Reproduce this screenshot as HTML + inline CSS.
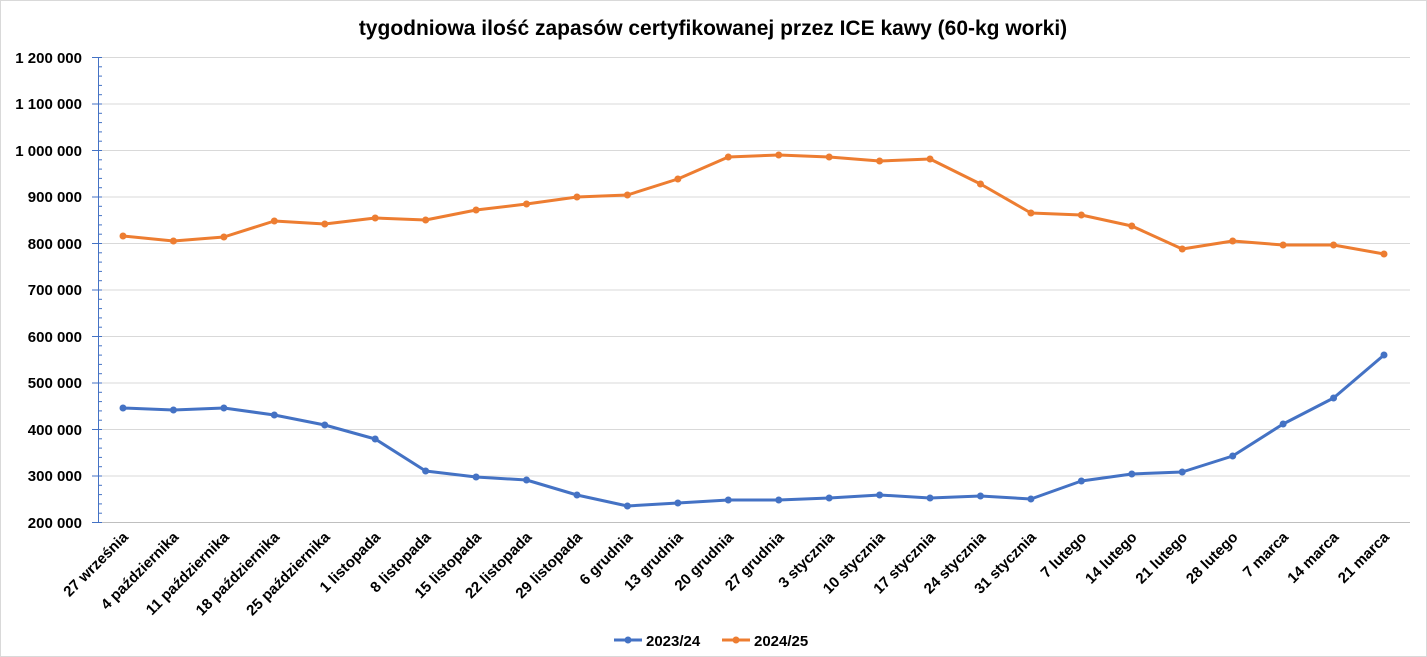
<!DOCTYPE html>
<html><head><meta charset="utf-8"><style>
html,body{margin:0;padding:0;background:#fff}
svg{display:block;font-family:"Liberation Sans",sans-serif}
</style></head><body>
<svg width="1427" height="657" viewBox="0 0 1427 657" xmlns="http://www.w3.org/2000/svg">
<rect x="0.5" y="0.5" width="1426" height="656" fill="#fff" stroke="#d9d9d9"/>
<text x="713" y="35" text-anchor="middle" font-size="21" font-weight="bold" fill="#000">tygodniowa ilość zapasów certyfikowanej przez ICE kawy (60-kg worki)</text>
<g stroke="#d9d9d9" stroke-width="1">
<line x1="98" x2="1410" y1="57.5" y2="57.5"/><line x1="98" x2="1410" y1="104" y2="104"/><line x1="98" x2="1410" y1="150.5" y2="150.5"/><line x1="98" x2="1410" y1="197" y2="197"/><line x1="98" x2="1410" y1="243.5" y2="243.5"/><line x1="98" x2="1410" y1="290" y2="290"/><line x1="98" x2="1410" y1="336.5" y2="336.5"/><line x1="98" x2="1410" y1="383" y2="383"/><line x1="98" x2="1410" y1="429.5" y2="429.5"/><line x1="98" x2="1410" y1="476" y2="476"/>
</g>
<line x1="98" x2="1410" y1="522.5" y2="522.5" stroke="#bfbfbf"/>
<line x1="98.5" x2="98.5" y1="57" y2="522" stroke="#4472c4"/>
<g id="ticks" stroke="#4472c4" stroke-width="1"></g>
<g font-size="15" font-weight="bold" text-anchor="end" fill="#000">
<text x="82" y="63">1 200 000</text><text x="82" y="109">1 100 000</text><text x="82" y="156">1 000 000</text><text x="82" y="202">900 000</text><text x="82" y="249">800 000</text><text x="82" y="295">700 000</text><text x="82" y="342">600 000</text><text x="82" y="388">500 000</text><text x="82" y="435">400 000</text><text x="82" y="481">300 000</text><text x="82" y="528">200 000</text>
</g>
<g id="lbl" font-size="15" font-weight="bold" text-anchor="end" fill="#000"></g>
<polyline id="o" fill="none" stroke="#ed7d31" stroke-width="3" stroke-linejoin="round"/>
<polyline id="b" fill="none" stroke="#4472c4" stroke-width="3" stroke-linejoin="round"/>
<g id="dots"></g>
<line x1="614" x2="642" y1="640" y2="640" stroke="#4472c4" stroke-width="3"/><circle cx="628" cy="640" r="3.5" fill="#4472c4"/>
<text x="646" y="646" font-size="15" font-weight="bold">2023/24</text>
<line x1="722" x2="750" y1="640" y2="640" stroke="#ed7d31" stroke-width="3"/><circle cx="736" cy="640" r="3.5" fill="#ed7d31"/>
<text x="754" y="646" font-size="15" font-weight="bold">2024/25</text>
</svg>
<script>
var L=["27 września","4 października","11 października","18 października","25 października","1 listopada","8 listopada","15 listopada","22 listopada","29 listopada","6 grudnia","13 grudnia","20 grudnia","27 grudnia","3 stycznia","10 stycznia","17 stycznia","24 stycznia","31 stycznia","7 lutego","14 lutego","21 lutego","28 lutego","7 marca","14 marca","21 marca"];
var O=[236,241,237,221,224,218,220,210,204,197,195,179,157,155,157,161,159,184,213,215,226,249,241,245,245,254];
var B=[408,410,408,415,425,439,471,477,480,495,506,503,500,500,498,495,498,496,499,481,474,472,456,424,398,355];
var ns="http://www.w3.org/2000/svg",g=document.getElementById("lbl"),d=document.getElementById("dots"),tk=document.getElementById("ticks");
function ln(x1,x2,y){var l=document.createElementNS(ns,"line");l.setAttribute("x1",x1);l.setAttribute("x2",x2);l.setAttribute("y1",y);l.setAttribute("y2",y);tk.appendChild(l);}
for(var k=0;k<=50;k++){var y=57.5+k*9.3;ln(k%5==0?92:98,102,y.toFixed(1));}
var po=[],pb=[];
for(var i=0;i<26;i++){var x=123+i*(1384-123)/25;
po.push(x+","+O[i]);pb.push(x+","+B[i]);
var t=document.createElementNS(ns,"text");t.setAttribute("transform","translate("+(x+6)+",538) rotate(-45)");t.textContent=L[i];g.appendChild(t);
[[O[i],"#ed7d31"],[B[i],"#4472c4"]].forEach(function(p){var c=document.createElementNS(ns,"circle");c.setAttribute("cx",x);c.setAttribute("cy",p[0]);c.setAttribute("r",3.5);c.setAttribute("fill",p[1]);d.appendChild(c);});}
document.getElementById("o").setAttribute("points",po.join(" "));
document.getElementById("b").setAttribute("points",pb.join(" "));
</script>
</body></html>
